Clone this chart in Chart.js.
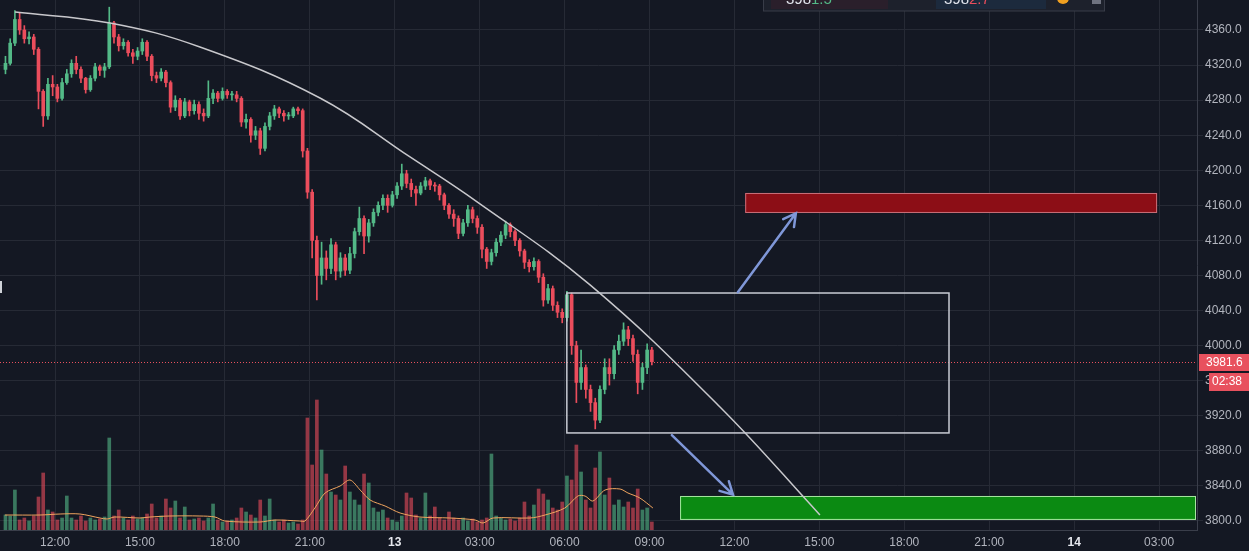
<!DOCTYPE html>
<html>
<head>
<meta charset="utf-8">
<title>Chart</title>
<script src="https://cdn.jsdelivr.net/npm/chart.js@4.4.1/dist/chart.umd.min.js"></script>
<style>
html, body { margin: 0; padding: 0; background: #141823; overflow: hidden; }
#wrap { width: 1249px; height: 551px; }
</style>
</head>
<body>
<div id="wrap"><canvas id="myChart"></canvas></div>
<script>
// 10 minute candles, hours counted from day 12 00:00
var startHour = 10.25;
var firstOpen = 4315;
var closes = [4322,4345,4372,4360,4350,4352,4338,4290,4262,4298,
  4295,4282,4300,4310,4322,4315,4305,4292,4305,4318,
  4314,4318,4368,4352,4342,4346,4334,4330,4336,4346,
  4330,4308,4305,4312,4300,4272,4280,4262,4278,4268,
  4275,4265,4262,4282,4288,4282,4290,4286,4286,4282,
  4255,4258,4240,4245,4225,4250,4262,4270,4265,4262,
  4262,4270,4268,4222,4175,4120,4080,4100,4088,4115,
  4085,4100,4086,4105,4130,4145,4125,4140,4152,4160,
  4168,4160,4172,4182,4196,4185,4178,4174,4182,4188,
  4183,4182,4172,4160,4150,4145,4128,4140,4155,4145,
  4135,4110,4096,4106,4118,4126,4138,4130,4120,4108,
  4095,4090,4096,4078,4052,4065,4046,4038,4032,4058,
  4000,3958,3975,3950,3935,3915,3950,3975,3968,3995,
  4005,4018,4008,3990,3958,3975,3995,3981.6];
var highs = [4330,4350,4382,4380,4365,4358,4355,4340,4292,4305,
  4308,4298,4305,4315,4326,4330,4318,4306,4308,4322,
  4320,4322,4386,4370,4355,4350,4348,4338,4340,4350,
  4348,4332,4312,4316,4314,4302,4285,4282,4282,4280,
  4280,4278,4270,4302,4292,4290,4294,4292,4290,4290,
  4284,4264,4260,4250,4248,4254,4266,4274,4272,4268,
  4266,4272,4272,4270,4225,4178,4125,4118,4108,4122,
  4118,4106,4104,4112,4134,4158,4148,4144,4156,4164,
  4172,4172,4176,4186,4207,4200,4190,4182,4186,4192,
  4190,4186,4184,4174,4162,4155,4148,4144,4160,4158,
  4148,4138,4112,4110,4122,4130,4142,4140,4132,4122,
  4110,4098,4100,4098,4082,4070,4068,4050,4042,4062,
  4060,4005,3995,3978,3955,3940,3954,3985,3985,4000,
  4012,4026,4022,4012,3995,3980,4002,3998];
var lows = [4310,4320,4342,4355,4345,4344,4332,4270,4250,4258,
  4285,4278,4280,4298,4306,4310,4300,4288,4290,4302,
  4308,4306,4316,4345,4336,4338,4330,4322,4326,4332,
  4325,4302,4300,4302,4295,4266,4268,4258,4260,4262,
  4264,4258,4256,4260,4276,4278,4280,4282,4280,4278,
  4250,4248,4232,4235,4218,4222,4246,4258,4260,4256,
  4258,4260,4264,4215,4168,4100,4052,4070,4075,4082,
  4075,4078,4080,4082,4100,4126,4105,4118,4136,4148,
  4155,4152,4158,4168,4178,4180,4170,4160,4172,4178,
  4178,4176,4166,4155,4145,4136,4122,4125,4136,4140,
  4128,4100,4088,4092,4102,4114,4122,4124,4114,4102,
  4088,4084,4086,4072,4045,4048,4040,4032,4026,4028,
  3990,3935,3950,3940,3925,3905,3912,3945,3955,3962,
  3990,4000,4000,3982,3945,3950,3968,3978];
var volumes = [15,14,40,10,12,9,14,33,57,20,
  18,10,12,34,12,10,14,9,12,10,
  11,13,92,14,20,12,10,14,11,12,
  16,26,12,14,31,22,29,12,23,10,
  11,12,9,12,26,10,8,9,10,12,
  22,18,15,12,30,14,31,10,8,10,
  7,8,6,10,112,65,130,80,56,38,
  35,30,64,38,30,25,56,47,22,18,
  20,12,10,8,14,37,32,15,12,37,
  14,23,12,10,18,12,10,12,9,11,
  8,10,12,76,14,12,10,11,9,12,
  28,14,25,41,36,30,22,20,28,54,
  50,85,58,30,22,62,78,35,52,25,
  30,23,28,22,41,20,22,8];
// volume average line
var maHours = [10.23,11.47,12.18,12.88,13.59,13.84,14.11,15.0,15.36,16.06,17.12,17.65,18.0,19.24,19.77,20.65,20.83,21.18,21.54,22.07,22.42,22.78,23.13,23.66,24.19,24.89,25.95,26.84,27.12,27.47,28.78,29.31,30.01,30.47,30.72,31.0,31.43,31.96,32.24,32.66,33.12];
var maValues = [15,15,16,16,12,11,13,12,13,14,14,13,9,8,10,9,9,22,37,44,50,40,30,24,17,13,12,10,7,12,12,15,22,34,34,29,40,41,37,32,22];
// drawn curve
var arcHours = [10.59,13.94,17.12,21.36,24.54,26.91,30.90,35.49,39.02];
var arcPrices = [4380.5,4368.0,4340.6,4282.4,4215.2,4164.0,4069.2,3930.0,3806.9];
// x ticks (hours) and price ticks
var hourTicks = [12,15,18,21,24,27,30,33,36,39,42,45,48,51];
var priceTicks = [3800,3840,3880,3920,3960,4000,4040,4080,4120,4160,4200,4240,4280,4320,4360];
var lastPrice = 3981.6;
var timerText = '02:38';
// drawings: [hourFrom, hourTo, priceLow, priceHigh]
var boxRange = [30.08, 43.58, 3900.4, 4060];
var redZone = [36.38, 50.93, 4151.3, 4174.1];
var greenZone = [34.08, 52.40, 3801.2, 3828.5];
// arrows: [hourFrom, priceFrom, hourTo, priceTo]
var arrowUp = [36.12, 4061, 38.17, 4151];
var arrowDown = [33.79, 3898, 35.95, 3830];

var UP = '#53b987', DOWN = '#eb4d5c';
var FONT = '"Liberation Sans", Arial, sans-serif';

var opens = closes.map(function(c, i) { return i === 0 ? firstOpen : closes[i - 1]; });
var hours = closes.map(function(c, i) { return startHour + i / 6; });

function candleColor(c) {
    var i = c.dataIndex;
    return closes[i] >= opens[i] ? UP : DOWN;
}
function volColor(c) {
    var i = c.dataIndex;
    return closes[i] >= opens[i] ? 'rgba(83,185,135,0.6)' : 'rgba(235,77,92,0.6)';
}
function noPad(axis) {
    axis.paddingTop = 0;
    axis.paddingBottom = 0;
    axis.paddingLeft = 0;
    axis.paddingRight = 0;
}

var drawings = {
    id: 'drawings',
    beforeDraw: function(chart) {
        var ctx = chart.ctx;
        ctx.save();
        ctx.fillStyle = '#141823';
        ctx.fillRect(0, 0, chart.width, chart.height);
        ctx.restore();
    },
    beforeDatasetsDraw: function(chart) {
        var ctx = chart.ctx, xs = chart.scales.x, ys = chart.scales.y, a = chart.chartArea;
        ctx.save();
        function zone(z, fill, stroke) {
            var x1 = xs.getPixelForValue(z[0]), x2 = Math.min(xs.getPixelForValue(z[1]), a.right - 1);
            var y1 = ys.getPixelForValue(z[3]), y2 = ys.getPixelForValue(z[2]);
            ctx.fillStyle = fill;
            ctx.fillRect(x1, y1, x2 - x1, y2 - y1);
            ctx.strokeStyle = stroke;
            ctx.lineWidth = 1;
            ctx.strokeRect(x1 + 0.5, y1 + 0.5, x2 - x1 - 1, y2 - y1 - 1);
        }
        zone(redZone, '#8c0e16', '#c8707a');
        zone(greenZone, '#0b8a12', '#a6e6a0');
        // last price dotted line
        var py = Math.round(ys.getPixelForValue(lastPrice)) + 0.5;
        ctx.strokeStyle = '#e8515e';
        ctx.lineWidth = 1;
        ctx.setLineDash([1, 2]);
        ctx.beginPath();
        ctx.moveTo(a.left, py);
        ctx.lineTo(a.right, py);
        ctx.stroke();
        ctx.restore();
    },
    afterDatasetsDraw: function(chart) {
        var ctx = chart.ctx, xs = chart.scales.x, ys = chart.scales.y;
        ctx.save();
        var x1 = xs.getPixelForValue(boxRange[0]), x2 = xs.getPixelForValue(boxRange[1]);
        var y1 = ys.getPixelForValue(boxRange[3]), y2 = ys.getPixelForValue(boxRange[2]);
        ctx.strokeStyle = '#c9ccd4';
        ctx.lineWidth = 1.5;
        ctx.strokeRect(x1, y1, x2 - x1, y2 - y1);

        function arrow(ar) {
            var ax = xs.getPixelForValue(ar[0]), ay = ys.getPixelForValue(ar[1]);
            var bx = xs.getPixelForValue(ar[2]), by = ys.getPixelForValue(ar[3]);
            var ang = Math.atan2(by - ay, bx - ax);
            ctx.strokeStyle = '#7f97d8';
            ctx.lineWidth = 2.5;
            ctx.lineCap = 'round';
            ctx.beginPath();
            ctx.moveTo(ax, ay);
            ctx.lineTo(bx, by);
            ctx.moveTo(bx - 14 * Math.cos(ang - 0.5), by - 14 * Math.sin(ang - 0.5));
            ctx.lineTo(bx, by);
            ctx.lineTo(bx - 14 * Math.cos(ang + 0.5), by - 14 * Math.sin(ang + 0.5));
            ctx.stroke();
        }
        arrow(arrowUp);
        arrow(arrowDown);
        ctx.restore();
    },
    afterDraw: function(chart) {
        var ctx = chart.ctx, ys = chart.scales.y, a = chart.chartArea;
        ctx.save();
        // last price label + countdown
        var py = Math.round(ys.getPixelForValue(lastPrice));
        ctx.fillStyle = '#e8515e';
        ctx.fillRect(a.right + 2, py - 8, chart.width - a.right - 2, 17);
        ctx.fillRect(a.right + 12, py + 11, chart.width - a.right - 12, 18);
        ctx.fillStyle = '#ffffff';
        ctx.font = '12px ' + FONT;
        ctx.textBaseline = 'middle';
        ctx.textAlign = 'left';
        ctx.fillText(lastPrice.toFixed(1), a.right + 9, py + 1);
        ctx.fillText(timerText, a.right + 15, py + 20);

        // cut off order panel at the top
        ctx.fillStyle = '#1d212c';
        ctx.fillRect(763, -10, 342, 21);
        ctx.strokeStyle = '#383c48';
        ctx.lineWidth = 1;
        ctx.strokeRect(763.5, -10, 341, 21);
        ctx.fillStyle = '#2a1f2b';
        ctx.fillRect(771, -10, 117, 19);
        ctx.fillStyle = '#1c2a3d';
        ctx.fillRect(936, -10, 110, 19);
        ctx.font = '15px ' + FONT;
        ctx.textBaseline = 'alphabetic';
        ctx.fillStyle = '#e0e3eb';
        ctx.fillText('398', 786, 4);
        var w = ctx.measureText('398').width;
        ctx.fillStyle = '#53b987';
        ctx.fillText('1.5', 786 + w, 4);
        ctx.fillStyle = '#e0e3eb';
        ctx.fillText('398', 944, 4);
        ctx.fillStyle = '#eb4d5c';
        ctx.fillText('2.7', 944 + w, 4);
        ctx.fillStyle = '#f0a020';
        ctx.beginPath();
        ctx.arc(1063, -2, 6, 0, Math.PI * 2);
        ctx.fill();
        ctx.fillStyle = '#6f7380';
        ctx.fillRect(1092, -4, 9, 8);
        // small mark on the left edge
        ctx.fillStyle = '#cfd2d8';
        ctx.fillRect(0, 281, 2, 12);
        ctx.restore();
    }
};

var ctx = document.getElementById('myChart');
var myChart = new Chart(ctx, {
    type: 'bar',
    data: {
        datasets: [
            {
                type: 'line',
                data: arcHours.map(function(h, i) { return { x: h, y: arcPrices[i] }; }),
                borderColor: '#c8c8cc',
                borderWidth: 1.5,
                pointRadius: 0,
                tension: 0.4,
                yAxisID: 'y',
                order: 1
            },
            {
                data: hours.map(function(h, i) { return { x: h, y: [opens[i], closes[i]] }; }),
                backgroundColor: candleColor,
                barThickness: 3,
                minBarLength: 1,
                grouped: false,
                yAxisID: 'y',
                order: 2
            },
            {
                data: hours.map(function(h, i) { return { x: h, y: [lows[i], highs[i]] }; }),
                backgroundColor: candleColor,
                barThickness: 1,
                grouped: false,
                yAxisID: 'y',
                order: 3
            },
            {
                type: 'line',
                data: maHours.map(function(h, i) { return { x: h, y: maValues[i] }; }),
                borderColor: '#f0a45e',
                borderWidth: 1,
                pointRadius: 0,
                tension: 0.3,
                yAxisID: 'yv',
                order: 4
            },
            {
                data: hours.map(function(h, i) { return { x: h, y: volumes[i] }; }),
                backgroundColor: volColor,
                barThickness: 3,
                grouped: false,
                yAxisID: 'yv',
                order: 5
            }
        ]
    },
    options: {
        responsive: true,
        maintainAspectRatio: false,
        animation: false,
        layout: { padding: 0 },
        plugins: { legend: { display: false }, tooltip: { enabled: false } },
        scales: {
            x: {
                type: 'linear',
                min: 10.057,
                max: 52.34,
                offset: false,
                grid: { color: '#262a35', tickLength: 0, offset: false },
                border: { color: '#3a3e4a' },
                ticks: {
                    color: function(c) { return c.tick.value % 24 === 0 ? '#e6e8ee' : '#b2b5be'; },
                    font: function(c) {
                        return { family: FONT, size: 12, weight: c.tick && c.tick.value % 24 === 0 ? 'bold' : 'normal' };
                    },
                    padding: 5,
                    maxRotation: 0,
                    autoSkip: false,
                    callback: function(v) {
                        if (v % 24 === 0) return String(12 + v / 24);
                        var h = v % 24;
                        return (h < 10 ? '0' : '') + h + ':00';
                    }
                },
                afterBuildTicks: function(axis) {
                    axis.ticks = hourTicks.map(function(v) { return { value: v }; });
                },
                afterFit: function(axis) { axis.height = 21; noPad(axis); }
            },
            y: {
                position: 'right',
                min: 3789.7,
                max: 4394.2,
                grid: { color: '#262a35', tickLength: 6 },
                border: { color: '#3a3e4a' },
                ticks: {
                    color: '#b2b5be',
                    font: { family: FONT, size: 12 },
                    padding: 2,
                    callback: function(v) { return v.toFixed(1); }
                },
                afterBuildTicks: function(axis) {
                    axis.ticks = priceTicks.map(function(v) { return { value: v }; });
                },
                afterFit: function(axis) { axis.width = 52; noPad(axis); }
            },
            yv: {
                display: false,
                min: 0,
                max: 530
            }
        }
    },
    plugins: [drawings]
});
</script>
</body>
</html>
